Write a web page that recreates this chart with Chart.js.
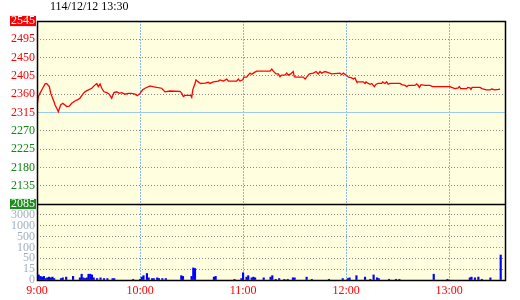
<!DOCTYPE html>
<html>
<head>
<meta charset="utf-8">
<script src="https://cdn.jsdelivr.net/npm/chart.js@4.4.1/dist/chart.umd.min.js"></script>
<style>
  body { margin: 0; background: #fff; }
  #wrap { position: relative; width: 520px; height: 300px; }
  #title { position: absolute; left: 50px; top: -1px; font: 12px 'Liberation Serif', serif; color: #000; }
</style>
</head>
<body>
<div id="wrap">
  <canvas id="tickChart" width="520" height="300"></canvas>
  <div id="title"></div>
</div>
<script>
const titleText = '114/12/12 13:30';

// x axis: minutes after 9:00
const timeTicks = [0, 60, 120, 180, 240];
const timeLabels = ['9:00', '10:00', '11:00', '12:00', '13:00'];

// price axis labels, bottom to top
const priceLabels = ['2085', '2135', '2180', '2225', '2270', '2315', '2360', '2405', '2450', '2495', '2545'];
// volume axis is piecewise: each label takes one band
const volLabels = ['0', '15', '50', '100', '500', '1000', '3000'];
const volSteps = [0, 15, 50, 100, 500, 1000, 3000];

const priceTimes = [
    0, 0.8, 1.7, 3.3, 4.7, 5.6, 7.2, 8, 9.1, 9.9,
    10.5, 11.8, 12.4, 13.8, 15, 16.3, 17.3, 18.8, 20.2, 22.1,
    24, 25, 27, 27.9, 29.9, 31.9, 33.2, 34.8, 35.7, 36.7,
    37.7, 39, 40.6, 42.1, 43.5, 44.8, 46.4, 47.9, 49.3, 51.2,
    53.2, 55.1, 57.1, 58.4, 60, 61.5, 62.9, 65.8, 67.4, 69.7,
    72.6, 74.5, 77.4, 83.3, 84.3, 85.2, 86.2, 89.5, 90.1, 90.7,
    92, 92.6, 93.9, 95.3, 97.8, 99.7, 100.7, 102.7, 105.6, 106.6,
    108.5, 110.5, 111.4, 116.3, 117.2, 118.2, 119.8, 120.5, 122.1, 123,
    124, 125, 125.9, 127.9, 135.7, 136.7, 137.6, 139.2, 140.5, 141.5,
    142.5, 144.4, 145.4, 146.3, 147.7, 149.2, 149.8, 150.8, 155.1, 156.1,
    157, 158.6, 160.9, 162.5, 163.8, 164.8, 165.8, 167.7, 169.6, 171.6,
    176.4, 177.4, 178.4, 180.7, 181.3, 183.2, 184.2, 185.2, 185.8, 186.2,
    190, 191, 191.6, 192.9, 193.9, 194.9, 196.4, 197.4, 198.7, 200.7,
    201.3, 202.6, 203.6, 204.5, 205.5, 211.4, 212.4, 214.3, 215.3, 216.2,
    220.1, 221.1, 222, 222.6, 223.6, 225.9, 228.8, 230.4, 240.5, 241.4,
    243.4, 245.3, 245.9, 246.7, 250.2, 250.8, 252.1, 252.7, 253.3, 258,
    259, 261.8, 263.8, 264.8, 266.7, 268.6, 269.6
];
const prices = [
    2330, 2355, 2363, 2376, 2387, 2388, 2380, 2363, 2351, 2342,
    2334, 2323, 2317, 2334, 2338, 2334, 2330, 2331, 2338, 2344,
    2348, 2351, 2363, 2367, 2372, 2376, 2382, 2388, 2380, 2387,
    2376, 2367, 2365, 2361, 2351, 2365, 2367, 2363, 2365, 2361,
    2363, 2363, 2361, 2357, 2363, 2372, 2376, 2382, 2380, 2378,
    2376, 2367, 2369, 2368, 2363, 2355, 2358, 2358, 2353, 2372,
    2388, 2397, 2392, 2388, 2389, 2391, 2388, 2392, 2394, 2397,
    2394, 2399, 2394, 2394, 2399, 2394, 2397, 2404, 2404, 2409,
    2414, 2411, 2414, 2419, 2419, 2424, 2419, 2412, 2412, 2405,
    2409, 2409, 2414, 2409, 2412, 2418, 2405, 2404, 2404, 2399,
    2404, 2412, 2414, 2418, 2412, 2418, 2414, 2418, 2415, 2412,
    2414, 2410, 2414, 2407, 2404, 2402, 2399, 2402, 2395, 2392,
    2392, 2388, 2392, 2388, 2386, 2388, 2380, 2386, 2388, 2388,
    2392, 2388, 2392, 2386, 2388, 2388, 2385, 2383, 2380, 2383,
    2383, 2387, 2383, 2378, 2385, 2383, 2383, 2380, 2380, 2378,
    2375, 2377, 2380, 2375, 2375, 2378, 2377, 2373, 2378, 2378,
    2375, 2372, 2372, 2374, 2372, 2373, 2374
];

const volTimes = [
    0, 1, 2, 3, 4, 5, 6, 7, 8, 9, 10, 14, 15, 17, 21, 25, 26, 27, 28, 29,
    30, 31, 32, 33, 35, 37, 39, 41, 44, 45, 56, 60, 61, 62, 64, 65, 67, 68, 70, 71,
    73, 75, 84, 85, 90, 91, 92, 103, 104, 115, 119, 120, 122, 123, 125, 126, 127, 132, 136, 137,
    139, 141, 144, 146, 149, 150, 157, 160, 170, 178, 181, 182, 186, 191, 194, 196, 198, 199, 205, 209,
    211, 231, 239, 252, 253, 255, 257, 259, 264, 270
];
const volumes = [
    20, 7, 5, 4, 5, 2, 3, 4, 3, 4, 2, 2, 3, 4, 5, 3, 8, 3, 2, 3,
    8, 8, 7, 3, 2, 3, 2, 2, 2, 2, 1, 1, 4, 6, 9, 3, 2, 2, 3, 2,
    2, 2, 6, 5, 5, 19, 17, 4, 5, 1, 2, 10, 4, 6, 3, 4, 3, 3, 4, 6,
    1, 2, 1, 1, 3, 3, 4, 1, 1, 2, 2, 3, 6, 4, 1, 7, 3, 2, 1, 1,
    1, 8, 1, 3, 4, 3, 4, 1, 3, 65
];

// volume -> band position on the piecewise volume axis
function volLevel(v) {
    for (let i = 1; i < volSteps.length; i++) {
        if (v <= volSteps[i]) return i - 1 + (v - volSteps[i - 1]) / (volSteps[i] - volSteps[i - 1]);
    }
    return volSteps.length - 1;
}

document.getElementById('title').textContent = titleText;

const serif = "'Liberation Serif', 'Times New Roman', serif";

const framePlugin = {
    id: 'frame',
    beforeDraw(chart) {
        const a = chart.chartArea, c = chart.ctx;
        c.save();
        c.fillStyle = '#ffffe0';
        c.fillRect(a.left, a.top, a.right - a.left, a.bottom - a.top);
        c.restore();
    },
    afterDraw(chart) {
        const a = chart.chartArea, c = chart.ctx;
        const mid = Math.round(chart.scales.y.bottom) + 0.5;
        c.save();
        c.strokeStyle = '#000';
        c.lineWidth = 1.5;
        c.strokeRect(a.left + 0.5, a.top + 0.5, a.right - a.left, a.bottom - a.top);
        c.beginPath();
        c.moveTo(a.left, mid);
        c.lineTo(a.right, mid);
        c.stroke();
        c.restore();
    }
};

new Chart(document.getElementById('tickChart').getContext('2d'), {
    type: 'bar',
    data: {
        datasets: [
            {
                type: 'line',
                data: priceTimes.map((t, i) => ({ x: t, y: prices[i] })),
                yAxisID: 'y',
                borderColor: '#ff0000',
                borderWidth: 1.3,
                pointRadius: 0,
                tension: 0,
                order: 0
            },
            {
                type: 'bar',
                data: volTimes.map((t, i) => ({ x: t, y: volLevel(volumes[i]) })),
                yAxisID: 'vol',
                backgroundColor: '#0000ff',
                barThickness: 1.5,
                order: 1
            }
        ]
    },
    options: {
        responsive: false,
        devicePixelRatio: 1,
        animation: false,
        layout: { padding: { top: 21, right: 15, left: 0, bottom: 0 } },
        plugins: {
            legend: { display: false },
            tooltip: { enabled: false }
        },
        scales: {
            x: {
                type: 'linear',
                offset: false,
                min: 0,
                max: 272.5,
                afterBuildTicks: s => { s.ticks = timeTicks.map(v => ({ value: v })); },
                afterFit: s => { s.height = 20; },
                grid: { offset: false, color: '#88bbe8', drawTicks: false },
                border: { display: false, dash: [2, 1] },
                ticks: {
                    autoSkip: false,
                    maxRotation: 0,
                    padding: 4,
                    color: '#ff0000',
                    font: { family: serif, size: 12 },
                    callback: (v, i) => timeLabels[i]
                }
            },
            y: {
                type: 'linear',
                position: 'left',
                stack: 'main',
                stackWeight: 183,
                weight: 2,
                min: 2085,
                max: 2545,
                afterFit: s => { s.width = 37; },
                grid: {
                    drawTicks: false,
                    color: c => (c.index === 0 || c.index === 10) ? 'transparent' : c.index === 5 ? '#99ccee' : '#888888'
                },
                border: { display: false, dash: c => c.index === 5 ? [] : [1, 2] },
                ticks: {
                    stepSize: 46,
                    autoSkip: false,
                    padding: 2,
                    font: { family: serif, size: 12, lineHeight: 0.85 },
                    color: c => (c.index === 0 || c.index === 10) ? '#ffffff' : c.index >= 5 ? '#ff0000' : '#118811',
                    showLabelBackdrop: c => c.index === 0 || c.index === 10,
                    backdropColor: c => c.index === 10 ? '#ff0000' : '#1e8c1e',
                    backdropPadding: { top: 0, bottom: 0, left: 1, right: 1 },
                    callback: (v, i) => priceLabels[i]
                }
            },
            vol: {
                type: 'linear',
                position: 'left',
                stack: 'main',
                stackWeight: 76,
                weight: 1,
                min: 0,
                max: 7,
                afterFit: s => { s.width = 37; },
                grid: {
                    drawTicks: false,
                    color: c => (c.index === 0 || c.index === 7) ? 'transparent' : '#888888'
                },
                border: { display: false, dash: [1, 2] },
                ticks: {
                    stepSize: 1,
                    autoSkip: false,
                    padding: 2,
                    color: '#a0b0c4',
                    font: { family: serif, size: 12 },
                    callback: (v, i) => volLabels[i] || ''
                }
            }
        }
    },
    plugins: [framePlugin]
});
</script>
</body>
</html>
